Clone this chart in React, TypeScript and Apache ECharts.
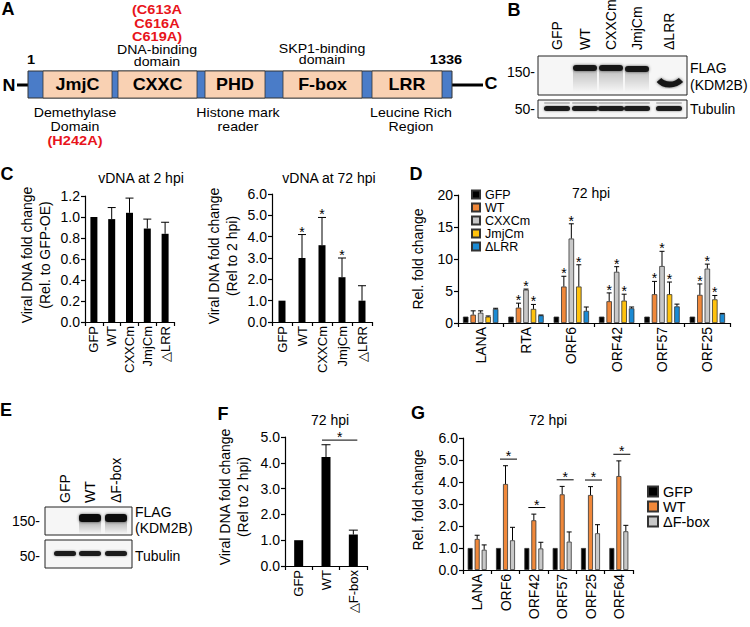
import React, { useEffect, useRef } from "react";
import * as echarts from "echarts";

const FONT = '"Liberation Sans", Arial, Helvetica, sans-serif';

// ---------- Panel C data ----------
const cCategories = ["GFP", "WT", "CXXCm", "JmjCm", "△LRR"];
const c2hpiMean = [1.0, 0.98, 1.04, 0.89, 0.84];
const c2hpiSd = [0, 0.11, 0.14, 0.09, 0.11];
const c72hpiMean = [1.0, 3.0, 3.6, 2.1, 1.0];
const c72hpiSd = [0, 1.1, 1.3, 0.9, 0.7];
const c72hpiSig = [0, 1, 1, 1, 0];

// ---------- Panel D data ----------
const dCategories = ["LANA", "RTA", "ORF6", "ORF42", "ORF57", "ORF25"];
const dGFP = [1, 1, 1, 1, 1, 1];
const dWT = [1.3, 2.4, 5.7, 3.4, 4.5, 4.4];
const dWTSd = [0.6, 0.7, 1.6, 1.3, 2.0, 1.7];
const dCXXCm = [1.6, 5.2, 13.2, 8.0, 8.9, 8.5];
const dCXXCmSd = [0.3, 0.1, 2.3, 0.8, 2.3, 0.7];
const dJmjCm = [1.0, 2.2, 5.7, 3.5, 4.5, 3.7];
const dJmjCmSd = [0.1, 0.7, 3.4, 1.0, 1.9, 0.6];
const dLRR = [2.2, 1.2, 1.9, 2.3, 2.6, 1.45];
const dLRRSd = [0.1, 0.05, 0.6, 0.2, 0.35, 0.05];
const dSig = [0, 1, 1, 1, 1, 1];

// ---------- Panel F data ----------
const fCategories = ["GFP", "WT", "△F-box"];
const fMean = [1.0, 4.22, 1.22];
const fSd = [0, 0.48, 0.17];

// ---------- Panel G data ----------
const gCategories = ["LANA", "ORF6", "ORF42", "ORF57", "ORF25", "ORF64"];
const gGFP = [1, 1, 1, 1, 1, 1];
const gWT = [1.41, 3.91, 2.26, 3.44, 3.41, 4.27];
const gWTSd = [0.17, 0.83, 0.28, 0.36, 0.38, 0.69];
const gDF = [0.92, 1.35, 0.98, 1.29, 1.67, 1.76];
const gDFSd = [0.22, 0.59, 0.28, 0.44, 0.39, 0.27];
const gSig = [0, 1, 1, 1, 1, 1];

// ---------- Blot lane labels ----------
const bLanes = ["GFP", "WT", "CXXCm", "JmjCm", "ΔLRR"];
const eLanes = ["GFP", "WT", "ΔF-box"];

const C_GFP = "#000000";
const C_WT = "#F0883A";
const C_GRAY = "#C8C8C8";
const C_JMJ = "#FFC20E";
const C_LRR = "#1B8AD3";

function txt(text: string, x: number, y: number, o: any = {}) {
  return {
    type: "text",
    x,
    y,
    rotation: o.rotation || 0,
    scaleX: o.scaleX || 1,
    silent: true,
    style: {
      text,
      fontSize: o.size || 14,
      fontWeight: o.bold ? "bold" : "normal",
      fontFamily: FONT,
      fill: o.color || "#000",
      align: o.align || "center",
      textAlign: o.align || "center",
      verticalAlign: o.valign || "middle",
      textVerticalAlign: o.valign || "middle",
      lineHeight: o.lineHeight,
    },
  };
}

function rect(x: number, y: number, w: number, h: number, style: any, r = 0) {
  return { type: "rect", silent: true, shape: { x, y, width: w, height: h, r }, style };
}

function line(x1: number, y1: number, x2: number, y2: number, lw = 1, color = "#000") {
  return { type: "line", silent: true, shape: { x1, y1, x2, y2 }, style: { stroke: color, lineWidth: lw } };
}

function xCat(gridIndex: number, data: string[], fontSize: number) {
  return {
    type: "category",
    gridIndex,
    data,
    boundaryGap: true,
    axisLine: { lineStyle: { color: "#000", width: 1.2 } },
    axisTick: { show: true, length: 4, lineStyle: { color: "#000", width: 1.2 } },
    axisLabel: { rotate: 90, fontSize, color: "#000", margin: 4, fontFamily: FONT, interval: 0 },
  };
}

function yVal(gridIndex: number, max: number, interval: number, decimals: number) {
  return {
    type: "value",
    gridIndex,
    min: 0,
    max,
    interval,
    axisLine: { show: true, lineStyle: { color: "#000", width: 1.2 } },
    axisTick: { show: true, length: 4, lineStyle: { color: "#000", width: 1.2 } },
    splitLine: { show: false },
    axisLabel: {
      fontSize: 14,
      color: "#000",
      margin: 5,
      fontFamily: FONT,
      formatter: (v: number) => v.toFixed(decimals),
    },
  };
}

function starText(x: number, y: number) {
  return {
    type: "text",
    x,
    y: y + 4,
    style: { text: "*", fontSize: 14, fontFamily: FONT, fill: "#000", align: "center", textAlign: "center", verticalAlign: "bottom", textVerticalAlign: "bottom" },
  };
}

function errSeries(gi: number, means: number[], sds: number[], sigs: number[] | null, offset: number, capW: number) {
  return {
    type: "custom",
    xAxisIndex: gi,
    yAxisIndex: gi,
    z: 10,
    silent: true,
    data: means.map((m, i) => [i, m, sds[i], sigs ? sigs[i] : 0]),
    encode: { x: 0, y: 1 },
    renderItem: (_p: any, api: any) => {
      const i = api.value(0);
      const m = api.value(1);
      const sd = api.value(2);
      const sig = api.value(3);
      const base = api.coord([i, m]);
      const top = api.coord([i, m + sd]);
      const x = base[0] + offset;
      const children: any[] = [];
      if (sd > 0) {
        children.push({ type: "line", shape: { x1: x, y1: base[1], x2: x, y2: top[1] }, style: { stroke: "#000", lineWidth: 1 } });
        children.push({ type: "line", shape: { x1: x - capW / 2, y1: top[1], x2: x + capW / 2, y2: top[1] }, style: { stroke: "#000", lineWidth: 1 } });
      }
      if (sig) children.push(starText(x, top[1]));
      return { type: "group", children };
    },
  };
}

function barSeries(name: string, gi: number, data: number[], color: string, width: number, gap: string, border = true) {
  return {
    type: "bar",
    name,
    xAxisIndex: gi,
    yAxisIndex: gi,
    data,
    barWidth: width,
    barGap: gap,
    itemStyle: { color, borderColor: border ? "#333" : color, borderWidth: border ? 0.8 : 0 },
    emphasis: { disabled: true },
  };
}

function buildGraphics() {
  const g: any[] = [];
  const SX = 1.12;
  // ---------- Panel A ----------
  g.push(txt("A", 8, 0, { bold: true, size: 18, valign: "top" }));
  g.push(line(17, 85, 28, 85, 3));
  g.push(line(452, 85, 483, 85, 3));
  g.push(rect(28, 71, 424, 27, { fill: "#4A7CC8", stroke: "#333", lineWidth: 1 }));
  const domains: [string, number, number][] = [
    ["JmjC", 43, 112],
    ["CXXC", 118, 197],
    ["PHD", 205, 265],
    ["F-box", 283, 362],
    ["LRR", 372, 442],
  ];
  domains.forEach(([name, x1, x2]) => {
    g.push(rect(x1, 71, x2 - x1, 27, { fill: "#F9D1B3", stroke: "#333", lineWidth: 0.8 }));
    g.push(txt(name, (x1 + x2) / 2, 85, { bold: true, size: 16, scaleX: SX }));
  });
  g.push(txt("N", 9, 86, { bold: true, size: 16, scaleX: SX }));
  g.push(txt("C", 491, 84, { bold: true, size: 16, scaleX: SX }));
  g.push(txt("1", 31, 60, { bold: true, size: 13, scaleX: SX }));
  g.push(txt("1336", 446, 60, { bold: true, size: 13, scaleX: SX }));
  g.push(txt("(C613A", 157, 10, { bold: true, size: 13, color: "#E8141B", scaleX: SX }));
  g.push(txt("C616A", 157, 23.5, { bold: true, size: 13, color: "#E8141B", scaleX: SX }));
  g.push(txt("C619A)", 157, 37, { bold: true, size: 13, color: "#E8141B", scaleX: SX }));
  g.push(txt("DNA-binding", 157, 50, { size: 12, scaleX: 1.18 }));
  g.push(txt("domain", 157, 61.5, { size: 12, scaleX: 1.18 }));
  g.push(txt("SKP1-binding", 322, 48.5, { size: 12, scaleX: 1.18 }));
  g.push(txt("domain", 322, 60, { size: 12, scaleX: 1.18 }));
  g.push(txt("Demethylase", 75, 113, { size: 12, scaleX: 1.18 }));
  g.push(txt("Domain", 75, 127, { size: 12, scaleX: 1.18 }));
  g.push(txt("(H242A)", 75, 141, { bold: true, size: 13, color: "#E8141B", scaleX: SX }));
  g.push(txt("Histone mark", 238, 113, { size: 12, scaleX: 1.18 }));
  g.push(txt("reader", 238, 127, { size: 12, scaleX: 1.18 }));
  g.push(txt("Leucine Rich", 411, 113, { size: 12, scaleX: 1.18 }));
  g.push(txt("Region", 411, 127, { size: 12, scaleX: 1.18 }));

  // ---------- Panel B (western blot) ----------
  g.push(txt("B", 514, 10, { bold: true, size: 18 }));
  const bX = [557, 585, 611, 637, 669];
  bLanes.forEach((l, i) => g.push(txt(l, bX[i], 50, { rotation: Math.PI / 2, align: "left", size: 14 })));
  g.push(rect(538, 56, 149, 39, { fill: "#F6F6F6", stroke: "#222", lineWidth: 1 }));
  [1, 2, 3].forEach((i) => {
    g.push(
      rect(bX[i] - 12, 70, 24, 22, {
        fill: { type: "linear", x: 0, y: 0, x2: 0, y2: 1, colorStops: [{ offset: 0, color: "rgba(0,0,0,0.22)" }, { offset: 1, color: "rgba(0,0,0,0)" }] },
      })
    );
  });
  [1, 2, 3].forEach((i) => {
    g.push(rect(bX[i] - 12, i === 3 ? 66 : 65, 24, 6, { fill: "#141414", shadowBlur: 3, shadowColor: "rgba(0,0,0,0.6)" }, 3));
  });
  g.push({
    type: "bezierCurve",
    silent: true,
    shape: { x1: 659, y1: 80, cpx1: 664, cpy1: 86, cpx2: 675, cpy2: 86, x2: 681, y2: 80 },
    style: { stroke: "#141414", lineWidth: 6, lineCap: "butt", fill: null, shadowBlur: 3, shadowColor: "rgba(0,0,0,0.6)" },
  });
  g.push(rect(538, 100, 149, 18, { fill: "#F6F6F6", stroke: "#222", lineWidth: 1 }));
  bX.forEach((x) => {
    g.push(rect(x - 13, 102, 26, 2, { fill: "rgba(0,0,0,0.22)" }, 1));
    g.push(rect(x - 13, 106, 26, 5, { fill: "#1A1A1A", shadowBlur: 2, shadowColor: "rgba(0,0,0,0.5)" }, 2.5));
  });
  g.push(txt("150-", 535, 72, { align: "right", size: 14 }));
  g.push(txt("50-", 535, 109, { align: "right", size: 14 }));
  g.push(txt("FLAG", 690, 68, { align: "left", size: 14 }));
  g.push(txt("(KDM2B)", 690, 85, { align: "left", size: 14 }));
  g.push(txt("Tubulin", 690, 109, { align: "left", size: 14 }));

  // ---------- Panel C / D titles ----------
  g.push(txt("C", 7, 174, { bold: true, size: 18 }));
  g.push(txt("vDNA at 2 hpi", 141, 178, { size: 14 }));
  g.push(txt("vDNA at 72 hpi", 329, 178, { size: 14 }));
  g.push(txt("Viral DNA fold change\n(Rel. to GFP-OE)", 36, 255, { rotation: Math.PI / 2, size: 14, lineHeight: 18 }));
  g.push(txt("Viral DNA fold change\n(Rel to 2 hpi)", 223, 256, { rotation: Math.PI / 2, size: 14, lineHeight: 18 }));
  g.push(txt("D", 416, 174, { bold: true, size: 18 }));
  g.push(txt("72 hpi", 591, 193, { size: 14 }));
  g.push(txt("Rel. fold change", 418, 259, { rotation: Math.PI / 2, size: 14 }));

  // ---------- Panel E (western blot) ----------
  g.push(txt("E", 6, 410, { bold: true, size: 18 }));
  const eX = [65, 90, 116];
  eLanes.forEach((l, i) => g.push(txt(l, eX[i], 503, { rotation: Math.PI / 2, align: "left", size: 14 })));
  g.push(rect(45, 507, 87, 28, { fill: "#F6F6F6", stroke: "#222", lineWidth: 1 }));
  [1, 2].forEach((i) => {
    g.push(
      rect(eX[i] - 11, 520, 22, 14, {
        fill: { type: "linear", x: 0, y: 0, x2: 0, y2: 1, colorStops: [{ offset: 0, color: "rgba(0,0,0,0.3)" }, { offset: 1, color: "rgba(0,0,0,0)" }] },
      })
    );
    g.push(rect(eX[i] - 11, 514, 22, 8, { fill: "#111", shadowBlur: 3, shadowColor: "rgba(0,0,0,0.6)" }, 3));
  });
  g.push(rect(45, 540, 87, 28, { fill: "#F6F6F6", stroke: "#222", lineWidth: 1 }));
  eX.forEach((x) => g.push(rect(x - 11, 551, 22, 5, { fill: "#1A1A1A", shadowBlur: 2, shadowColor: "rgba(0,0,0,0.5)" }, 2.5)));
  g.push(txt("150-", 40, 521, { align: "right", size: 14 }));
  g.push(txt("50-", 40, 556, { align: "right", size: 14 }));
  g.push(txt("FLAG", 135, 512, { align: "left", size: 14 }));
  g.push(txt("(KDM2B)", 135, 528, { align: "left", size: 14 }));
  g.push(txt("Tubulin", 135, 556, { align: "left", size: 14 }));

  // ---------- Panel F / G titles ----------
  g.push(txt("F", 223, 414, { bold: true, size: 18 }));
  g.push(txt("72 hpi", 330, 420, { size: 14 }));
  g.push(txt("Viral DNA fold change\n(Rel to 2 hpi)", 234, 497, { rotation: Math.PI / 2, size: 14, lineHeight: 18 }));
  g.push(txt("G", 418, 413, { bold: true, size: 18 }));
  g.push(txt("72 hpi", 548, 420, { size: 14 }));
  g.push(txt("Rel. fold change", 418, 500, { rotation: Math.PI / 2, size: 14 }));
  return g;
}

function buildOption() {
  const dW = 5.5;
  const dGap = 0.36;
  const dStep = dW * (1 + dGap);
  const gW = 5;
  const gGap = 0.4;
  const gStep = gW * (1 + gGap);

  const fSigLevel = Math.max(...fMean.map((m, i) => m + fSd[i])) + 0.18;
  const gSigLevels = gCategories.map((_, i) => Math.max(gWT[i] + gWTSd[i], gDF[i] + gDFSd[i]) + 0.3);

  return {
    animation: false,
    backgroundColor: "#fff",
    textStyle: { fontFamily: FONT },
    grid: [
      { left: 85, top: 196, width: 89, height: 126 },
      { left: 272, top: 194, width: 100, height: 128 },
      { left: 458, top: 195, width: 272, height: 128 },
      { left: 285, top: 437, width: 82, height: 129 },
      { left: 463, top: 438, width: 170, height: 132 },
    ],
    xAxis: [
      xCat(0, cCategories, 13),
      xCat(1, cCategories, 13),
      xCat(2, dCategories, 14),
      xCat(3, fCategories, 13),
      xCat(4, gCategories, 14),
    ],
    yAxis: [yVal(0, 1.2, 0.2, 1), yVal(1, 6, 1, 1), yVal(2, 20, 5, 0), yVal(3, 5, 1, 1), yVal(4, 6, 1, 1)],
    legend: [
      {
        left: 471,
        top: 188,
        orient: "vertical",
        itemWidth: 8,
        itemHeight: 8,
        itemGap: 0,
        padding: 0,
        icon: "rect",
        selectedMode: false,
        data: ["GFP", "WT", "CXXCm", "JmjCm", "ΔLRR"],
        textStyle: { fontSize: 12.5, lineHeight: 11, color: "#000", fontFamily: FONT },
      },
      {
        left: 647,
        top: 484,
        orient: "vertical",
        itemWidth: 10,
        itemHeight: 10,
        itemGap: 0,
        padding: 0,
        icon: "rect",
        selectedMode: false,
        data: ["GFP", "WT", "ΔF-box"],
        textStyle: { fontSize: 14.5, lineHeight: 14, color: "#000", fontFamily: FONT },
      },
    ],
    graphic: buildGraphics(),
    series: [
      // Panel C
      barSeries("c2", 0, c2hpiMean, "#000", 7, "30%", false),
      errSeries(0, c2hpiMean, c2hpiSd, null, 0, 8),
      barSeries("c72", 1, c72hpiMean, "#000", 7, "30%", false),
      errSeries(1, c72hpiMean, c72hpiSd, c72hpiSig, 0, 8),
      // Panel D
      barSeries("GFP", 2, dGFP, C_GFP, dW, "36%"),
      barSeries("WT", 2, dWT, C_WT, dW, "36%"),
      barSeries("CXXCm", 2, dCXXCm, C_GRAY, dW, "36%"),
      barSeries("JmjCm", 2, dJmjCm, C_JMJ, dW, "36%"),
      barSeries("ΔLRR", 2, dLRR, C_LRR, dW, "36%"),
      errSeries(2, dWT, dWTSd, dSig, -dStep, 5),
      errSeries(2, dCXXCm, dCXXCmSd, dSig, 0, 5),
      errSeries(2, dJmjCm, dJmjCmSd, dSig, dStep, 5),
      errSeries(2, dLRR, dLRRSd, null, 2 * dStep, 5),
      // Panel F
      barSeries("f", 3, fMean, "#000", 9, "30%", false),
      errSeries(3, fMean, fSd, null, 0, 9),
      {
        type: "custom",
        xAxisIndex: 3,
        yAxisIndex: 3,
        z: 10,
        silent: true,
        data: [[1, 2, fSigLevel]],
        encode: { x: 0, y: 2 },
        renderItem: (_p: any, api: any) => {
          const a = api.coord([api.value(0), api.value(2)]);
          const b = api.coord([api.value(1), api.value(2)]);
          const x1 = a[0] - 4;
          const x2 = b[0] + 4;
          return {
            type: "group",
            children: [
              { type: "line", shape: { x1, y1: a[1], x2, y2: a[1] }, style: { stroke: "#000", lineWidth: 1 } },
              starText((x1 + x2) / 2, a[1]),
            ],
          };
        },
      },
      // Panel G
      barSeries("GFP", 4, gGFP, C_GFP, gW, "40%"),
      barSeries("WT", 4, gWT, C_WT, gW, "40%"),
      barSeries("ΔF-box", 4, gDF, C_GRAY, gW, "40%"),
      errSeries(4, gWT, gWTSd, null, 0, 5),
      errSeries(4, gDF, gDFSd, null, gStep, 5),
      {
        type: "custom",
        xAxisIndex: 4,
        yAxisIndex: 4,
        z: 10,
        silent: true,
        data: gCategories.map((_, i) => [i, gSigLevels[i], gSig[i]]),
        encode: { x: 0, y: 1 },
        renderItem: (_p: any, api: any) => {
          if (!api.value(2)) return { type: "group", children: [] };
          const p = api.coord([api.value(0), api.value(1)]);
          const x1 = p[0] - 5.5;
          const x2 = p[0] + 11.5;
          return {
            type: "group",
            children: [
              { type: "line", shape: { x1, y1: p[1], x2, y2: p[1] }, style: { stroke: "#000", lineWidth: 1 } },
              starText((x1 + x2) / 2, p[1]),
            ],
          };
        },
      },
    ],
  };
}

export default function App() {
  const ref = useRef<HTMLDivElement>(null);
  useEffect(() => {
    if (!ref.current) return;
    const chart = echarts.init(ref.current, undefined, { renderer: "svg" });
    chart.setOption(buildOption() as any);
    return () => chart.dispose();
  }, []);
  return <div ref={ref} style={{ position: "fixed", left: 0, top: 0, width: 750, height: 627, background: "#fff" }} />;
}
